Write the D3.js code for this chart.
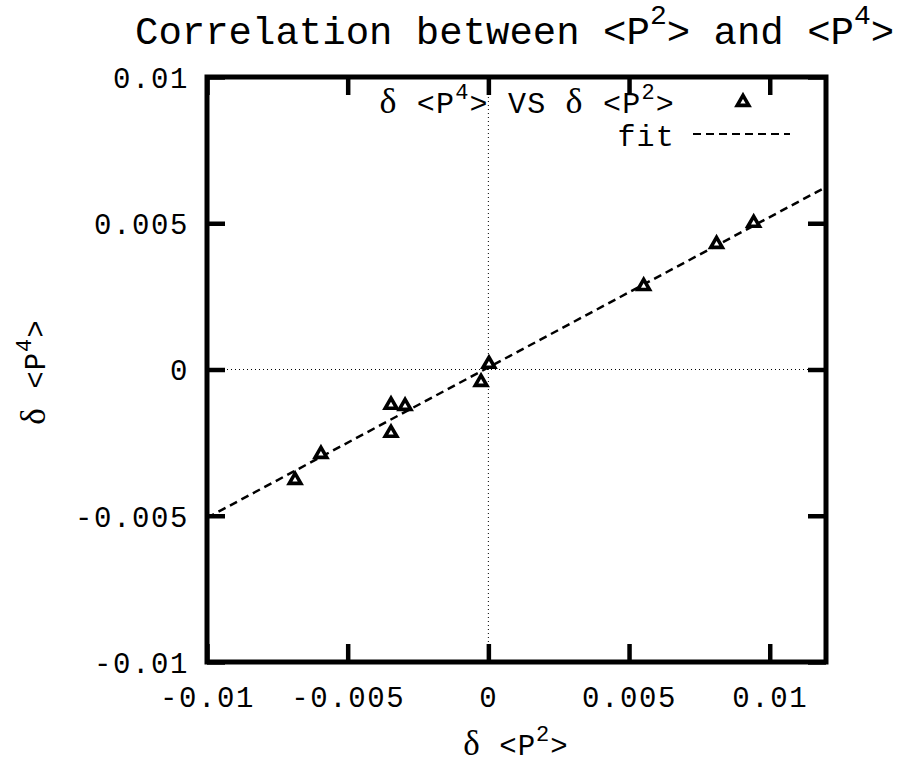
<!DOCTYPE html>
<html>
<head>
<meta charset="utf-8">
<script src="https://cdn.jsdelivr.net/npm/d3@7"></script>
<style>
  body { margin: 0; background: #fff; }
  .tick text { font-family: "Liberation Mono", monospace; font-size: 29px; letter-spacing: 1.6px; fill: #000; }
  .lbl { font-family: "Liberation Mono", monospace; fill: #000; }
</style>
</head>
<body>
<svg id="chart" width="901" height="764"></svg>
<script>
// values
const dP2 = [-0.00687, -0.00595, -0.00346, -0.00296, -0.00346, -0.00026, 0.00002, 0.00552, 0.00811, 0.00943];
const dP4 = [-0.00378, -0.00289, -0.00121, -0.00125, -0.00217, -0.00043, 0.00019, 0.00285, 0.00429, 0.00501];
const fitSlope = 0.514;
const fitIntercept = 0.00007;
const xTicks = [-0.01, -0.005, 0, 0.005, 0.01];
const yTicks = [-0.01, -0.005, 0, 0.005, 0.01];
const xDomain = [-0.01, 0.012];
const yDomain = [-0.01, 0.01];

const width = 901, height = 764;
const margin = {top: 77, right: 75, bottom: 102, left: 207};
const tickLen = 18;

const svg = d3.select('#chart');

const x = d3.scaleLinear().domain(xDomain).range([margin.left, width - margin.right]);
const y = d3.scaleLinear().domain(yDomain).range([height - margin.bottom, margin.top]);

// gnuplot style numbers: 0, 0.005, -0.01
const fmt = d => d === 0 ? '0' : String(+d.toFixed(3));

// zero axes (dotted)
svg.append('line')
    .attr('x1', x(0)).attr('x2', x(0))
    .attr('y1', y.range()[0]).attr('y2', y.range()[1])
    .attr('stroke', '#000').attr('stroke-width', 1).attr('stroke-dasharray', '1,3');
svg.append('line')
    .attr('x1', x.range()[0]).attr('x2', x.range()[1])
    .attr('y1', y(0)).attr('y2', y(0))
    .attr('stroke', '#000').attr('stroke-width', 1).attr('stroke-dasharray', '1,3');

// axes, ticks point inward
const gx = svg.append('g')
    .attr('transform', `translate(0,${height - margin.bottom})`)
    .call(d3.axisBottom(x).tickValues(xTicks).tickSize(-tickLen).tickFormat(fmt));
gx.selectAll('.tick text').attr('y', 45).attr('dy', 0);

const gy = svg.append('g')
    .attr('transform', `translate(${margin.left},0)`)
    .call(d3.axisLeft(y).tickValues(yTicks).tickSize(-tickLen).tickPadding(18).tickFormat(fmt));
gy.selectAll('.tick text').attr('dy', '0.36em');

const gt = svg.append('g')
    .attr('transform', `translate(0,${margin.top})`)
    .call(d3.axisTop(x).tickValues(xTicks).tickSize(-tickLen).tickFormat(''));
const gr = svg.append('g')
    .attr('transform', `translate(${width - margin.right},0)`)
    .call(d3.axisRight(y).tickValues(yTicks).tickSize(-tickLen).tickFormat(''));

[gx, gy, gt, gr].forEach(g => {
    g.select('.domain').remove();
    g.selectAll('.tick line').attr('stroke', '#000').attr('stroke-width', 4.5);
});

// plot border
svg.append('rect')
    .attr('x', x.range()[0]).attr('y', y.range()[1])
    .attr('width', x.range()[1] - x.range()[0])
    .attr('height', y.range()[0] - y.range()[1])
    .attr('fill', 'none').attr('stroke', '#000').attr('stroke-width', 5);

// fit line
const fitLine = d3.line().x(d => x(d)).y(d => y(fitSlope * d + fitIntercept));
svg.append('path')
    .datum(xDomain)
    .attr('d', fitLine)
    .attr('fill', 'none').attr('stroke', '#000')
    .attr('stroke-width', 2.5).attr('stroke-dasharray', '8,5');

// data points
const tri = d3.symbol(d3.symbolTriangle).size(58);
svg.append('g').selectAll('path')
    .data(dP2.map((v, i) => [v, dP4[i]]))
    .join('path')
    .attr('d', tri)
    .attr('transform', d => `translate(${x(d[0])},${y(d[1])})`)
    .attr('fill', '#fff').attr('stroke', '#000').attr('stroke-width', 3.6);

// helper for "δ <P^n>" style labels
function deltaP(sel, n, size, supSize, rise) {
    sel.append('tspan').text('δ').style('font-family', '"Liberation Serif", serif').attr('font-size', size + 6);
    sel.append('tspan').text(' <P').attr('font-size', size);
    sel.append('tspan').text(n).attr('font-size', supSize).attr('dy', -rise);
    sel.append('tspan').text('>').attr('font-size', size).attr('dy', rise);
}

// title
const title = svg.append('text').attr('class', 'lbl')
    .attr('x', 135).attr('y', 44).attr('font-size', 39);
title.append('tspan').text('Correlation between <P');
title.append('tspan').text('2').attr('font-size', 28).attr('dy', -20);
title.append('tspan').text('> and <P').attr('dy', 20);
title.append('tspan').text('4').attr('font-size', 28).attr('dy', -20);
title.append('tspan').text('>').attr('dy', 20);

// x label
const xl = svg.append('text').attr('class', 'lbl')
    .attr('x', 516).attr('y', 755).attr('text-anchor', 'middle').attr('letter-spacing', 1);
deltaP(xl, '2', 29, 22, 14);

// y label
const yl = svg.append('text').attr('class', 'lbl')
    .attr('transform', 'translate(45,372) rotate(-90)').attr('text-anchor', 'middle').attr('letter-spacing', 1);
deltaP(yl, '4', 29, 22, 14);

// legend
const k1 = svg.append('text').attr('class', 'lbl')
    .attr('x', 675).attr('y', 113).attr('text-anchor', 'end').attr('letter-spacing', 1.2);
deltaP(k1, '4', 30, 22, 14);
k1.append('tspan').text(' VS ').attr('font-size', 30);
deltaP(k1, '2', 30, 22, 14);
svg.append('path')
    .attr('d', tri)
    .attr('transform', 'translate(743,102)')
    .attr('fill', '#fff').attr('stroke', '#000').attr('stroke-width', 3.6);

svg.append('text').attr('class', 'lbl')
    .attr('x', 675).attr('y', 146).attr('text-anchor', 'end').attr('font-size', 30).attr('letter-spacing', 1.2)
    .text('fit');
svg.append('line')
    .attr('x1', 693).attr('x2', 790).attr('y1', 134).attr('y2', 134)
    .attr('stroke', '#000').attr('stroke-width', 2).attr('stroke-dasharray', '8,5');
</script>
</body>
</html>
